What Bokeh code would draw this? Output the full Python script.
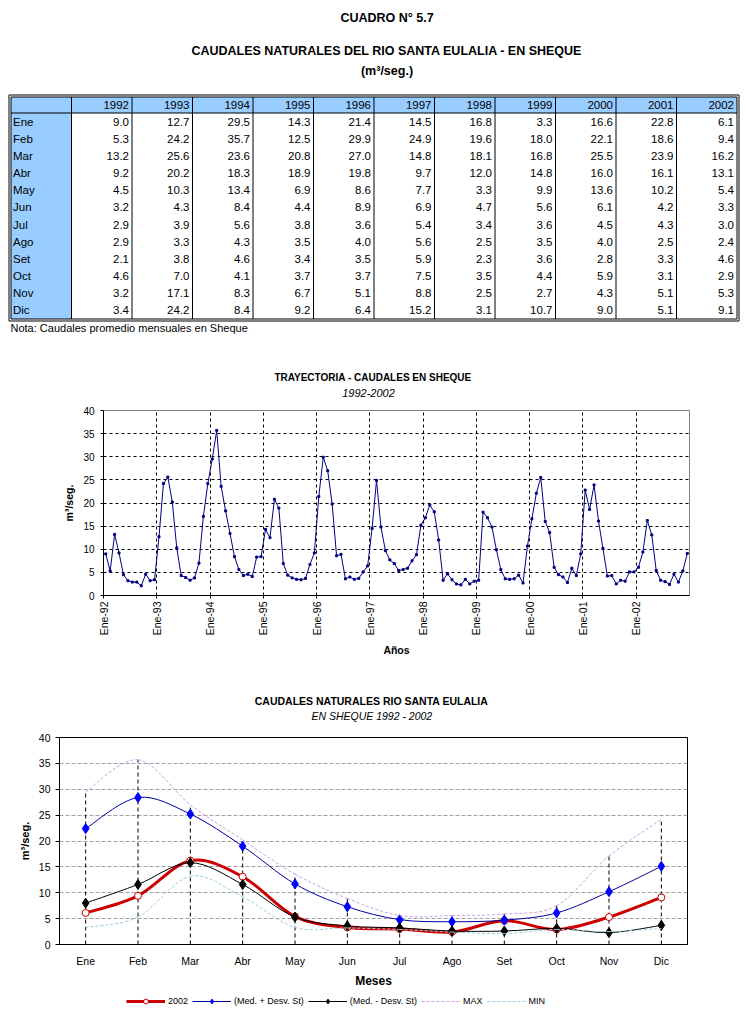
import math
from bokeh.plotting import figure
from bokeh.models import Range1d, FixedTicker, Label, Legend, LegendItem, ColumnDataSource
from bokeh.core.properties import value
from bokeh.embed import file_html
from bokeh.resources import INLINE

FONT = "Liberation Sans"

# ---------------- data ----------------
months = ["Ene", "Feb", "Mar", "Abr", "May", "Jun", "Jul", "Ago", "Set", "Oct", "Nov", "Dic"]
years = ["1992", "1993", "1994", "1995", "1996", "1997", "1998", "1999", "2000", "2001", "2002"]

q1992 = [9.0, 5.3, 13.2, 9.2, 4.5, 3.2, 2.9, 2.9, 2.1, 4.6, 3.2, 3.4]
q1993 = [12.7, 24.2, 25.6, 20.2, 10.3, 4.3, 3.9, 3.3, 3.8, 7.0, 17.1, 24.2]
q1994 = [29.5, 35.7, 23.6, 18.3, 13.4, 8.4, 5.6, 4.3, 4.6, 4.1, 8.3, 8.4]
q1995 = [14.3, 12.5, 20.8, 18.9, 6.9, 4.4, 3.8, 3.5, 3.4, 3.7, 6.7, 9.2]
q1996 = [21.4, 29.9, 27.0, 19.8, 8.6, 8.9, 3.6, 4.0, 3.5, 3.7, 5.1, 6.4]
q1997 = [14.5, 24.9, 14.8, 9.7, 7.7, 6.9, 5.4, 5.6, 5.9, 7.5, 8.8, 15.2]
q1998 = [16.8, 19.6, 18.1, 12.0, 3.3, 4.7, 3.4, 2.5, 2.3, 3.5, 2.5, 3.1]
q1999 = [3.3, 18.0, 16.8, 14.8, 9.9, 5.6, 3.6, 3.5, 3.6, 4.4, 2.7, 10.7]
q2000 = [16.6, 22.1, 25.5, 16.0, 13.6, 6.1, 4.5, 4.0, 2.8, 5.9, 4.3, 9.0]
q2001 = [22.8, 18.6, 23.9, 16.1, 10.2, 4.2, 4.3, 2.5, 3.3, 3.1, 5.1, 5.1]
q2002 = [6.1, 9.4, 16.2, 13.1, 5.4, 3.3, 3.0, 2.4, 4.6, 2.9, 5.3, 9.1]
year_series = [q1992, q1993, q1994, q1995, q1996, q1997, q1998, q1999, q2000, q2001, q2002]

traj_tick_labels = ["Ene-92", "Ene-93", "Ene-94", "Ene-95", "Ene-96", "Ene-97",
                    "Ene-98", "Ene-99", "Ene-00", "Ene-01", "Ene-02"]

med_plus = [22.4, 28.4, 25.2, 19.0, 11.7, 7.3, 4.8, 4.4, 4.7, 6.1, 10.2, 15.1]
med_minus = [8.0, 11.6, 15.8, 11.6, 5.3, 3.6, 3.2, 2.6, 2.6, 3.1, 2.3, 3.7]
max_vals = [29.5, 35.7, 27.0, 20.2, 13.6, 8.9, 5.6, 5.6, 5.9, 7.5, 17.1, 24.2]
min_vals = [3.3, 5.3, 13.2, 9.2, 3.3, 3.2, 2.9, 2.4, 2.1, 2.9, 2.5, 3.1]

y_ticks = [0, 5, 10, 15, 20, 25, 30, 35, 40]

W = 746


def blank(height):
    f = figure(width=W, height=height, x_range=Range1d(0, W), y_range=Range1d(height, 0),
               output_backend="svg", toolbar_location=None, min_border=0,
               x_axis_location=None, y_axis_location=None, outline_line_color=None)
    f.grid.visible = False
    return f


def label(fig, x, y, txt, size, style="normal", align="center"):
    fig.add_layout(Label(x=x, y=y, text=txt, text_align=align, text_baseline="middle",
                         text_font=FONT, text_font_size=size, text_font_style=style,
                         text_color="black"))


# ---------------- table figure (also holds chart-1 titles) ----------------
pt = blank(402)

BLUE = "#99CCFF"
OL, OR, OT, OB = 8.5, 738.5, 94.5, 320.5
TL, TR, IT, HB, IB = 10.5, 736.5, 96.5, 112.5, 318.5
CW = (TR - TL) / (len(years) + 1)
RH = (IB - HB) / len(months)

pt.quad(left=TL, right=TR, top=IT, bottom=HB, fill_color=BLUE, line_color=None)
pt.quad(left=TL, right=TL + CW, top=HB, bottom=IB, fill_color=BLUE, line_color=None)
pt.quad(left=OL, right=OR, top=OT, bottom=OB, fill_color=None, line_color="black", line_width=1)
pt.quad(left=TL, right=TR, top=IT, bottom=IB, fill_color=None, line_color="black", line_width=1)
sep_x = [TL + k * CW for k in range(1, len(years) + 1)]
pt.segment(x0=sep_x, y0=IT, x1=sep_x, y1=IB, line_color="black", line_width=1)
pt.segment(x0=TL, y0=HB, x1=TR, y1=HB, line_color="black", line_width=1)

hdr = ColumnDataSource(dict(x=[TL + (j + 2) * CW - 3 for j in range(len(years))],
                            y=[(IT + HB) / 2] * len(years), t=years))
pt.text(x="x", y="y", text="t", source=hdr, text_align="right", text_baseline="middle",
        text_font=value(FONT), text_font_size="11.5px", text_color="black")

mon = ColumnDataSource(dict(x=[TL + 2] * len(months),
                            y=[HB + (r + 0.5) * RH for r in range(len(months))], t=months))
pt.text(x="x", y="y", text="t", source=mon, text_align="left", text_baseline="middle",
        text_font=value(FONT), text_font_size="11.5px", text_color="black")

vx, vy, vt = [], [], []
for j, ser in enumerate(year_series):
    for r, v in enumerate(ser):
        vx.append(TL + (j + 2) * CW - 3)
        vy.append(HB + (r + 0.5) * RH)
        vt.append("%.1f" % v)
pt.text(x="x", y="y", text="t", source=ColumnDataSource(dict(x=vx, y=vy, t=vt)),
        text_align="right", text_baseline="middle",
        text_font=value(FONT), text_font_size="11.5px", text_color="black")

label(pt, 386.5, 17, "CUADRO N° 5.7", "12.5px", "bold")
label(pt, 386.5, 50, "CAUDALES NATURALES DEL RIO SANTA EULALIA - EN SHEQUE", "12.5px", "bold")
label(pt, 386.5, 70.5, "(m³/seg.)", "12.5px", "bold")
label(pt, 10, 327, "Nota: Caudales  promedio mensuales en Sheque", "11px", "normal", "left")
label(pt, 372.5, 377, "TRAYECTORIA - CAUDALES EN SHEQUE", "10px", "bold")
label(pt, 368, 392, "1992-2002", "11px", "italic")

# ---------------- chart 1: trajectory ----------------
traj = []
for ser in year_series:
    traj.extend(ser)
tidx = list(range(len(traj)))

p1 = figure(width=W, height=266, x_range=Range1d(-0.5, len(traj) - 0.5), y_range=Range1d(0, 40),
            output_backend="svg", toolbar_location=None,
            min_border_left=103, min_border_right=57, min_border_top=8, min_border_bottom=73)
p1.outline_line_color = "#808080"
p1.line(tidx, traj, line_color="#000080", line_width=1)
p1.scatter(tidx, traj, marker="square", size=2, fill_color="#000080", line_color="#000080")

year_starts = [-0.5 + 12 * k for k in range(len(traj_tick_labels))]
p1.xaxis.ticker = FixedTicker(ticks=year_starts)
p1.xaxis.major_label_overrides = {t: lab for t, lab in zip(year_starts, traj_tick_labels)}
p1.xaxis.major_label_orientation = math.pi / 2
p1.yaxis.ticker = FixedTicker(ticks=y_ticks)
p1.xgrid.ticker = FixedTicker(ticks=year_starts[1:])
p1.ygrid.ticker = FixedTicker(ticks=y_ticks[1:-1])
for g in (p1.xgrid, p1.ygrid):
    g.grid_line_color = "black"
    g.grid_line_dash = "3 3"
    g.grid_line_width = 1
p1.xaxis.axis_label = "Años"
p1.yaxis.axis_label = "m³/seg."
for ax in (p1.xaxis, p1.yaxis):
    ax.axis_line_color = "black"
    ax.major_tick_line_color = "black"
    ax.minor_tick_line_color = None
    ax.major_tick_in = 0
    ax.major_tick_out = 3
    ax.major_label_text_font = FONT
    ax.major_label_text_color = "black"
    ax.axis_label_text_font = FONT
    ax.axis_label_text_font_style = "bold"
    ax.axis_label_text_font_size = "10.5px"
    ax.axis_label_text_color = "black"
p1.xaxis.major_label_text_font_size = "10.5px"
p1.yaxis.major_label_text_font_size = "10px"
p1.xaxis.major_label_standoff = 3
p1.yaxis.major_label_standoff = 6
p1.xaxis.axis_label_standoff = 6
p1.yaxis.axis_label_standoff = 5

# ---------------- chart-2 titles ----------------
t2 = blank(57)
label(t2, 371, 32, "CAUDALES NATURALES RIO SANTA EULALIA", "10.5px", "bold")
label(t2, 371.3, 47, "EN SHEQUE 1992 - 2002", "10.5px", "italic")

# ---------------- chart 2: monthly statistics ----------------
midx = list(range(len(months)))

p2 = figure(width=W, height=265, x_range=Range1d(-0.5, len(months) - 0.5), y_range=Range1d(0, 40),
            output_backend="svg", toolbar_location=None,
            min_border_left=59, min_border_right=59, min_border_top=12, min_border_bottom=44)
p2.outline_line_color = "black"
p2.xgrid.visible = False
p2.ygrid.ticker = FixedTicker(ticks=y_ticks[1:-1])
p2.ygrid.grid_line_color = "#A0A0A0"
p2.ygrid.grid_line_dash = "4 2"

p2.segment(x0=midx, y0=0, x1=midx, y1=max_vals, line_color="black", line_dash="4 3", line_width=1)


def smooth(ys):
    n = len(ys)
    d = dict(x0=[], y0=[], x1=[], y1=[], cx0=[], cy0=[], cx1=[], cy1=[])
    for i in range(n - 1):
        a, b = max(i - 1, 0), min(i + 2, n - 1)
        d["x0"].append(i); d["y0"].append(ys[i])
        d["x1"].append(i + 1); d["y1"].append(ys[i + 1])
        d["cx0"].append(i + (i + 1 - a) / 6); d["cy0"].append(ys[i] + (ys[i + 1] - ys[a]) / 6)
        d["cx1"].append(i + 1 - (b - i) / 6); d["cy1"].append(ys[i + 1] - (ys[b] - ys[i]) / 6)
    return ColumnDataSource(d)


series = [
    ("2002", q2002, dict(line_color="#CC0000", line_width=3),
     dict(marker="circle", size=7, fill_color="white", line_color="#CC0000", line_width=1)),
    ("(Med. + Desv. St)", med_plus, dict(line_color="#0000A0", line_width=1),
     dict(marker="diamond", size=10, fill_color="#0000FF", line_color="#0000FF")),
    ("(Med. - Desv. St)", med_minus, dict(line_color="black", line_width=1),
     dict(marker="diamond", size=10, fill_color="black", line_color="black")),
    ("MAX", max_vals, dict(line_color="#C8A0E8", line_width=1, line_dash="3 2"), None),
    ("MIN", min_vals, dict(line_color="#99CCDD", line_width=1, line_dash="3 2"), None),
]
for name, ys, lstyle, mstyle in series:
    p2.bezier(x0="x0", y0="y0", x1="x1", y1="y1", cx0="cx0", cy0="cy0", cx1="cx1", cy1="cy1",
              source=smooth(ys), **lstyle)
    if mstyle:
        p2.scatter(midx, ys, **mstyle)

p2.xaxis.ticker = FixedTicker(ticks=midx)
p2.xaxis.major_label_overrides = {i: m for i, m in zip(midx, months)}
p2.yaxis.ticker = FixedTicker(ticks=y_ticks)
p2.xaxis.axis_label = "Meses"
p2.yaxis.axis_label = "m³/seg."
for ax in (p2.xaxis, p2.yaxis):
    ax.axis_line_color = "black"
    ax.major_tick_line_color = "black"
    ax.minor_tick_line_color = None
    ax.major_tick_in = 0
    ax.major_label_text_font = FONT
    ax.major_label_text_font_size = "10.5px"
    ax.major_label_text_color = "black"
    ax.axis_label_text_font = FONT
    ax.axis_label_text_font_style = "bold"
    ax.axis_label_text_color = "black"
p2.xaxis.major_tick_out = 0
p2.yaxis.major_tick_out = 4
p2.xaxis.major_label_standoff = 10
p2.yaxis.major_label_standoff = 5
p2.xaxis.axis_label_text_font_size = "12px"
p2.yaxis.axis_label_text_font_size = "11px"
p2.xaxis.axis_label_standoff = 4
p2.yaxis.axis_label_standoff = 5

# ---------------- legend strip for chart 2 (same series, drawn out of view) ----------------
pl = figure(width=W, height=29, x_range=Range1d(-100, -99), y_range=Range1d(0, 40),
            output_backend="svg", toolbar_location=None, min_border=0,
            x_axis_location=None, y_axis_location=None, outline_line_color=None)
pl.grid.visible = False
items = []
for name, ys, lstyle, mstyle in series:
    rs = [pl.line(midx, ys, **lstyle)]
    if mstyle:
        small = dict(mstyle)
        small["size"] = 6 if small["marker"] == "circle" else 8
        rs.append(pl.scatter(midx, ys, **small))
    items.append(LegendItem(label=name, renderers=rs))
legend = Legend(items=items, orientation="horizontal", location=(126, 12),
                glyph_width=39, glyph_height=12, label_standoff=3, spacing=4, padding=0, margin=0,
                border_line_color=None, background_fill_alpha=0, label_text_font=FONT,
                label_text_color="black", label_text_font_size="9px", label_height=10,
                label_width=10)
pl.add_layout(legend)

open("out.html", "w").write(file_html([pt, p1, t2, p2, pl], INLINE))
